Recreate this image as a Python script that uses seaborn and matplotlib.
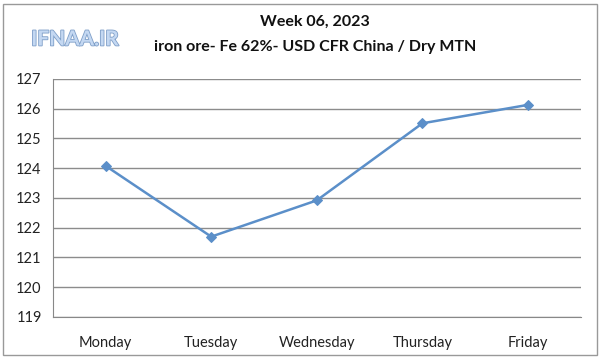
import numpy as np
import pandas as pd
import seaborn as sns
import matplotlib.pyplot as plt
import matplotlib.patheffects as pe
from matplotlib.patches import Rectangle

days = ["Monday", "Tuesday", "Wednesday", "Thursday", "Friday"]
prices = [124.08, 121.7, 122.92, 125.51, 126.13]
y_ticks = [119, 120, 121, 122, 123, 124, 125, 126, 127]

sns.set_style("white")
plt.rcParams['font.family'] = ['Lato', 'DejaVu Sans']

df = pd.DataFrame({"day": days, "price": prices, "pos": range(len(days))})

fig = plt.figure(figsize=(6, 3.59), dpi=100)
ax = fig.add_axes([0.088, 0.117, 0.88, 0.663])

sns.lineplot(data=df, x="pos", y="price", ax=ax, color="#5b8fc9", linewidth=1.8,
             marker="D", markersize=5, markeredgecolor="#5b8fc9")

ax.set_xlim(-0.5, len(days) - 0.5)
ax.set_ylim(y_ticks[0], y_ticks[-1])
ax.set_yticks(y_ticks)
ax.set_xticks(range(len(days)))
ax.set_xticklabels(days)
ax.set_xticks(np.arange(-0.5, len(days)), minor=True)
ax.tick_params(axis="x", which="major", length=0, pad=14, labelsize=10.5, colors="#222222")
ax.tick_params(axis="x", which="minor", length=5, color="#888888", direction="out")
ax.tick_params(axis="y", length=5, color="#888888", direction="out", labelsize=10.5,
               labelcolor="#222222", pad=3)
ax.grid(axis="y", color="#8c8c8c", linewidth=1)
ax.set_axisbelow(True)
for side in ["top", "right"]:
    ax.spines[side].set_visible(False)
for side in ["left", "bottom"]:
    ax.spines[side].set_color("#888888")
ax.set_xlabel("")
ax.set_ylabel("")

fig.text(0.525, 0.94, "Week 06, 2023", ha="center", va="center", fontsize=11.5,
         fontweight="bold", color="#111111")
fig.text(0.525, 0.87, "iron ore- Fe 62%- USD CFR China / Dry MTN", ha="center",
         va="center", fontsize=11.5, fontweight="bold", color="#111111")
fig.text(0.052, 0.89, "IFNAA.IR", ha="left", va="center", fontsize=15,
         color="#c4d8f2", fontweight="bold",
         path_effects=[pe.withStroke(linewidth=1.2, foreground="#7f9fc8")])

fig.patches.append(Rectangle((0.005, 0.01), 0.99, 0.98, transform=fig.transFigure,
                             fill=False, edgecolor="#999999", linewidth=1))

fig.savefig("out.png", dpi=100)
